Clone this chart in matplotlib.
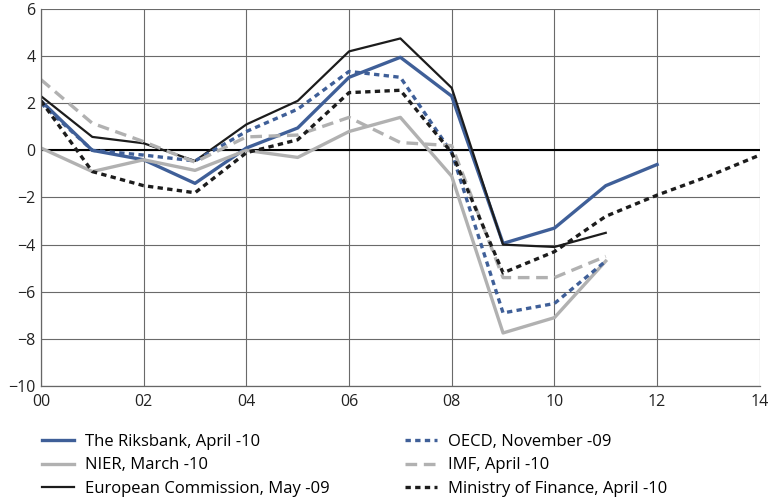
import matplotlib.pyplot as plt
import numpy as np

plt.rcParams["font.family"] = ["Open Sans", "DejaVu Sans"]

# years since 2000
years_hist = [0, 1, 2, 3, 4, 5, 6, 7, 8, 9, 10, 11]
years_rb = [0, 1, 2, 3, 4, 5, 6, 7, 8, 9, 10, 11, 12]
years_mof = [0, 1, 2, 3, 4, 5, 6, 7, 8, 9, 10, 11, 12, 13, 14]

riksbank = [2.1, 0.0, -0.4, -1.4, 0.1, 0.95, 3.1, 3.95, 2.3, -3.95, -3.3, -1.5, -0.6]
nier = [0.1, -0.9, -0.4, -0.85, 0.0, -0.3, 0.8, 1.4, -1.1, -7.75, -7.1, -4.7]
eu_comm = [2.3, 0.57, 0.3, -0.45, 1.1, 2.1, 4.2, 4.75, 2.65, -4.0, -4.1, -3.5]
oecd = [2.0, 0.0, -0.2, -0.45, 0.8, 1.75, 3.35, 3.1, -0.1, -6.9, -6.5, -4.7]
imf = [3.0, 1.15, 0.37, -0.5, 0.57, 0.65, 1.4, 0.33, 0.2, -5.4, -5.4, -4.5]
mof = [2.1, -0.9, -1.5, -1.8, -0.1, 0.45, 2.45, 2.55, -0.1, -5.2, -4.3, -2.8, -1.9, -1.1, -0.2]

x_ticks = [0, 2, 4, 6, 8, 10, 12, 14]
x_labels = ["00", "02", "04", "06", "08", "10", "12", "14"]
y_ticks = [-10, -8, -6, -4, -2, 0, 2, 4, 6]

blue = "#3f5f98"
grey = "#b1b1b1"
black = "#1c1c1c"

fig = plt.figure(figsize=(7.69, 4.99), dpi=100)
ax = fig.add_axes([0.0533, 0.2265, 0.9347, 0.7555])

ax.plot(years_rb, riksbank, color=blue, lw=2.4, label="The Riksbank, April -10")
ax.plot(years_hist, nier, color=grey, lw=2.4, label="NIER, March -10")
ax.plot(years_hist, eu_comm, color=black, lw=1.6, label="European Commission, May -09")
ax.plot(years_hist, oecd, color=blue, lw=2.4, ls=(0, (1.6, 1.3)), label="OECD, November -09")
ax.plot(years_hist, imf, color=grey, lw=2.4, ls=(0, (3.5, 2)), label="IMF, April -10")
ax.plot(years_mof, mof, color=black, lw=2.4, ls=(0, (1.6, 1.3)), label="Ministry of Finance, April -10")

ax.axhline(0, color="black", lw=1.5, zorder=1)

ax.set_xlim(0, 14)
ax.set_ylim(-10, 6)
ax.set_xticks(x_ticks)
ax.set_xticklabels(x_labels)
ax.set_yticks(y_ticks)
ax.grid(True, color="#6a6a6a", lw=0.8)
ax.set_axisbelow(True)
for s in ["top", "right"]:
    ax.spines[s].set_visible(False)
for s in ["left", "bottom"]:
    ax.spines[s].set_color("#666666")
    ax.spines[s].set_linewidth(0.9)
ax.tick_params(axis="both", labelsize=11.5, length=0, pad=4, colors="#222222")
ax.tick_params(axis="x", pad=6)

handles, labels = ax.get_legend_handles_labels()
fig.legend(handles, labels, ncol=2, loc="upper left", bbox_to_anchor=(0.035, 0.16),
           frameon=False, fontsize=12, handlelength=1.9, columnspacing=4.5,
           labelspacing=0.44, handletextpad=0.7)

fig.savefig("out.png", dpi=100)
